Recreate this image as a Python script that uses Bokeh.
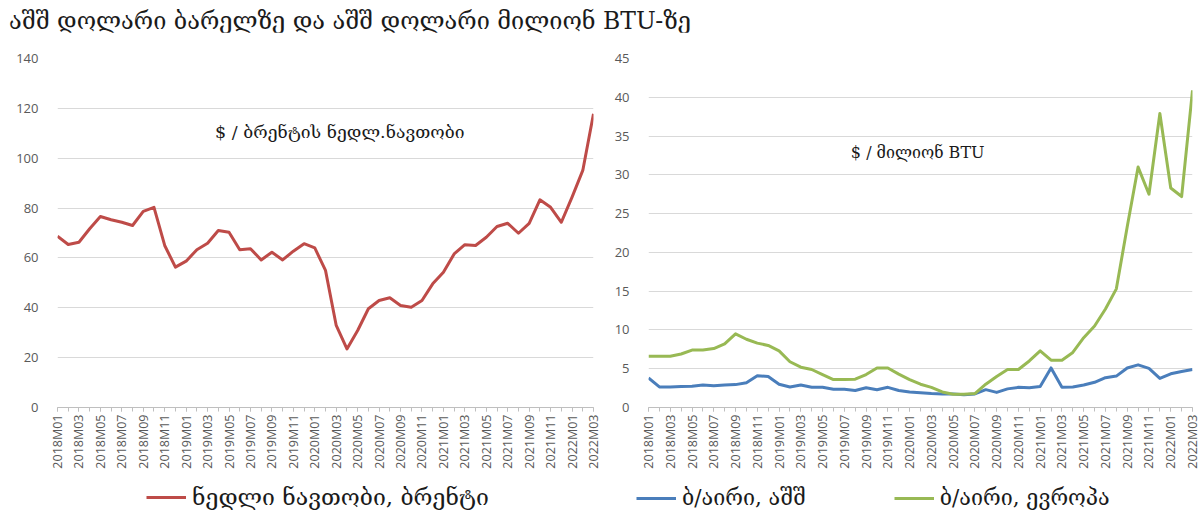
import numpy as np
from bokeh.plotting import figure
from bokeh.models import (ColumnDataSource, FixedTicker, Legend, LegendItem,
                          Label, Div, Range1d)
from bokeh.layouts import column, row
from bokeh.embed import file_html
from bokeh.resources import INLINE

# ---------------- data ----------------
months = ["2018M01", "2018M02", "2018M03", "2018M04", "2018M05", "2018M06",
          "2018M07", "2018M08", "2018M09", "2018M10", "2018M11", "2018M12",
          "2019M01", "2019M02", "2019M03", "2019M04", "2019M05", "2019M06",
          "2019M07", "2019M08", "2019M09", "2019M10", "2019M11", "2019M12",
          "2020M01", "2020M02", "2020M03", "2020M04", "2020M05", "2020M06",
          "2020M07", "2020M08", "2020M09", "2020M10", "2020M11", "2020M12",
          "2021M01", "2021M02", "2021M03", "2021M04", "2021M05", "2021M06",
          "2021M07", "2021M08", "2021M09", "2021M10", "2021M11", "2021M12",
          "2022M01", "2022M02", "2022M03"]

brent = [68.7, 65.4, 66.3, 71.7, 76.6, 75.3, 74.3, 73.0, 78.7, 80.3, 65.0, 56.3,
         58.7, 63.3, 65.9, 71.0, 70.3, 63.3, 63.7, 59.2, 62.3, 59.2, 62.7, 65.7,
         64.0, 55.0, 32.9, 23.5, 30.9, 39.6, 42.9, 44.0, 40.9, 40.2, 42.9, 49.6,
         54.3, 61.6, 65.3, 65.0, 68.3, 72.6, 73.9, 69.9, 73.9, 83.3, 80.3, 74.3,
         84.4, 95.1, 117.8]

gas_us = [3.8, 2.65, 2.65, 2.7, 2.75, 2.9, 2.8, 2.9, 2.95, 3.2, 4.1, 4.0,
          3.0, 2.65, 2.9, 2.6, 2.6, 2.35, 2.35, 2.2, 2.55, 2.3, 2.6, 2.2,
          2.0, 1.9, 1.8, 1.75, 1.75, 1.65, 1.75, 2.3, 1.95, 2.4, 2.6, 2.55,
          2.7, 5.1, 2.6, 2.65, 2.9, 3.25, 3.85, 4.05, 5.1, 5.5, 5.05, 3.75,
          4.35, 4.65, 4.9]

gas_eu = [6.6, 6.6, 6.6, 6.9, 7.4, 7.4, 7.6, 8.2, 9.5, 8.8, 8.3, 8.0,
          7.3, 5.9, 5.2, 4.9, 4.25, 3.6, 3.6, 3.65, 4.25, 5.1, 5.1, 4.3,
          3.6, 3.0, 2.6, 2.0, 1.7, 1.7, 1.8, 3.0, 4.0, 4.9, 4.9, 6.0,
          7.3, 6.1, 6.1, 7.1, 9.0, 10.5, 12.7, 15.3, 23.3, 31.0, 27.5, 37.9,
          28.3, 27.2, 40.9]

title_text = "აშშ დოლარი ბარელზე და აშშ დოლარი მილიონ BTU-ზე"
note_left = "$ / ბრენტის ნედლ.ნავთობი"
note_right = "$ / მილიონ BTU"
name_brent = "ნედლი ნავთობი, ბრენტი"
name_us = "ბ/აირი, აშშ"
name_eu = "ბ/აირი, ევროპა"

left_ticks = [0, 20, 40, 60, 80, 100, 120, 140]
right_ticks = [0, 5, 10, 15, 20, 25, 30, 35, 40, 45]

# ---------------- styling ----------------
RED = "#BE4B48"
BLUE = "#4A7EBB"
GREEN = "#98B954"
GRID = "#D9D9D9"
TICK_TXT = "#595959"
GEO_FONT = "DejaVu Serif"
NUM_FONT = "Open Sans"
TOP = 26
FRAME_H = 349
BOTTOM = 68
FIG_H = TOP + FRAME_H + BOTTOM
LEG_H = 38
W1, W2 = 603, 597

idx = list(range(len(months)))
src = ColumnDataSource(dict(x=idx, brent=brent, us=gas_us, eu=gas_eu))


def make_fig(width, left, right, ymax, yticks):
    p = figure(width=width, height=FIG_H,
               x_range=Range1d(0, len(months) - 1), y_range=Range1d(0, ymax),
               output_backend="svg", toolbar_location=None,
               sizing_mode="fixed",
               min_border_left=left, min_border_right=right,
               min_border_top=TOP, min_border_bottom=BOTTOM)
    p.outline_line_color = None
    p.background_fill_color = "white"
    p.border_fill_color = "white"
    p.xgrid.visible = False
    p.ygrid.grid_line_color = GRID
    p.ygrid.grid_line_width = 1
    p.ygrid.ticker = FixedTicker(ticks=yticks)
    p.yaxis.ticker = FixedTicker(ticks=yticks)
    p.yaxis.axis_line_color = None
    p.yaxis.major_tick_line_color = None
    p.yaxis.minor_tick_line_color = None
    p.yaxis.major_label_text_color = TICK_TXT
    p.yaxis.major_label_text_font = NUM_FONT
    p.yaxis.major_label_text_font_size = "13px"
    p.yaxis.major_label_standoff = 13

    even = [i for i in idx if i % 2 == 0]
    p.xaxis.ticker = FixedTicker(ticks=even, minor_ticks=idx)
    p.xaxis.major_label_overrides = {i: months[i] for i in even}
    p.xaxis.major_label_orientation = np.pi / 2
    p.xaxis.major_label_text_color = TICK_TXT
    p.xaxis.major_label_text_font = NUM_FONT
    p.xaxis.major_label_text_font_size = "12.5px"
    p.xaxis.major_label_standoff = 3
    p.xaxis.axis_line_color = "#BFBFBF"
    p.xaxis.major_tick_line_color = "#BFBFBF"
    p.xaxis.minor_tick_line_color = "#BFBFBF"
    p.xaxis.major_tick_in = 0
    p.xaxis.major_tick_out = 4
    p.xaxis.minor_tick_in = 0
    p.xaxis.minor_tick_out = 4
    return p


def legend_fig(width, entries, x0, font_size, spacing):
    # a strip that only carries the legend; its line renderers hold a single
    # point each, so they draw nothing but give the legend its line samples
    lf = figure(width=width, height=LEG_H, x_range=Range1d(0, 1),
                y_range=Range1d(0, 1), output_backend="svg",
                toolbar_location=None, sizing_mode="fixed",
                min_border_left=0, min_border_right=0,
                min_border_top=0, min_border_bottom=0)
    lf.axis.visible = False
    lf.grid.visible = False
    lf.outline_line_color = None
    lf.border_fill_color = "white"
    items = []
    for name, color in entries:
        r = lf.line(x=[-1], y=[-1], line_color=color, line_width=3)
        items.append(LegendItem(label=name, renderers=[r]))
    leg = Legend(items=items, orientation="horizontal", location=(x0, 3),
                 label_text_font=GEO_FONT, label_text_font_size=font_size,
                 label_text_color="#1a1a1a", glyph_width=40, glyph_height=24,
                 border_line_color=None, background_fill_alpha=0,
                 margin=0, padding=4, label_standoff=6, spacing=spacing)
    lf.add_layout(leg, "center")
    return lf


# ---------------- left: Brent ----------------
p1 = make_fig(W1, 57, 10, 140, left_ticks)
p1.line("x", "brent", source=src, line_color=RED, line_width=3,
        line_join="round")
p1.add_layout(Label(x=14.7, y=110.7, text=note_left, text_font=GEO_FONT,
                    text_font_size="17.5px", text_color="#1a1a1a",
                    text_baseline="middle"))

# ---------------- right: gas ----------------
p2 = make_fig(W2, 45, 8, 45, right_ticks)
p2.line("x", "us", source=src, line_color=BLUE, line_width=3,
        line_join="round")
p2.line("x", "eu", source=src, line_color=GREEN, line_width=3,
        line_join="round")
p2.add_layout(Label(x=18.6, y=32.9, text=note_right, text_font=GEO_FONT,
                    text_font_size="16px", text_color="#1a1a1a",
                    text_baseline="middle"))

l1 = legend_fig(W1, [(name_brent, RED)], 146, "23px", 0)
l2 = legend_fig(W2, [(name_us, BLUE), (name_eu, GREEN)], 33, "21.5px", 88)

title = Div(text=title_text, width=1200, height=32, margin=(0, 0, 0, 0),
            styles={"font-family": GEO_FONT, "font-size": "23.5px",
                    "color": "#1a1a1a", "padding-left": "9px",
                    "padding-top": "5px", "white-space": "nowrap"})

layout = column(title, row(p1, p2, spacing=0), row(l1, l2, spacing=0),
                spacing=0)

open("out.html", "w").write(file_html(layout, INLINE))
